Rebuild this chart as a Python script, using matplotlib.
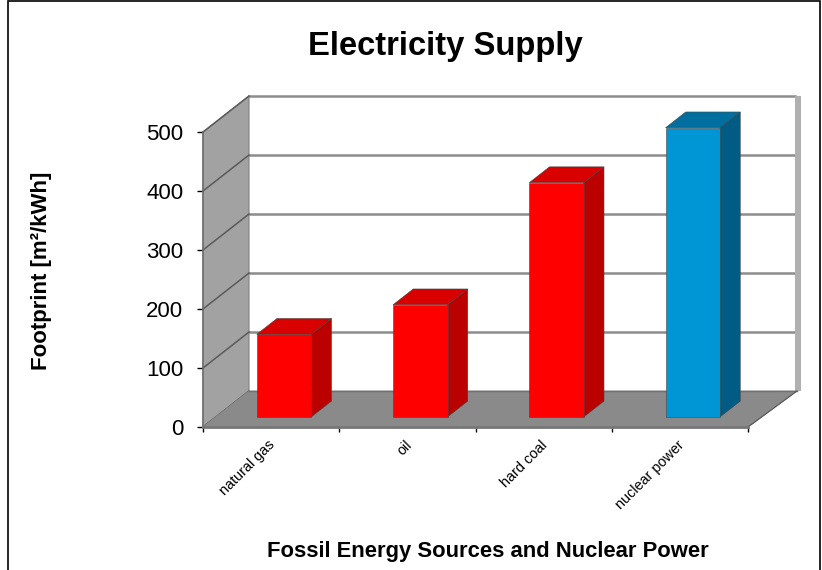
# Electricity Supply footprint chart, the 3D look is done by hand with fills
import matplotlib
matplotlib.use("Agg")
import matplotlib.pyplot as plt
import matplotlib.patches as patches
import numpy as np

plt.rcParams['font.family'] = ['Liberation Sans', 'DejaVu Sans']

categories = ['natural gas', 'oil', 'hard coal', 'nuclear power']
footprint = [140, 190, 397, 490]
y_ticks = [0, 100, 200, 300, 400, 500]
front_colors = ['#ff0000', '#ff0000', '#ff0000', '#0096d6']
top_colors = ['#d90000', '#d90000', '#d90000', '#006f9f']
side_colors = ['#bb0000', '#bb0000', '#bb0000', '#005c84']

W, H = 822, 570
fig = plt.figure(figsize=(W / 100, H / 100), dpi=100)
frame = patches.Rectangle((7.5 / W, -0.1), (820 - 7.5) / W, 1.1 - 1.5 / H,
                          transform=fig.transFigure, fc='white', ec='black', lw=1.2, zorder=-1)
fig.add_artist(frame)
ax = fig.add_axes([203 / W, 1 - 427 / H, 545 / W, 295 / H])
ax.set_xlim(0, 4)
ax.set_ylim(0, 500)
ax.patch.set_visible(False)

# depth of the box in data units (46 px and 36 px on screen)
px = 1 / 136.25
dx = 46 * px
dy = 36 / 0.59
y_top = 500
x_end = 4


def poly(xs, ys, **kw):
    ax.fill(xs, ys, clip_on=False, **kw)


# left wall, floor, strip on the right of the back wall
poly([0, dx, dx, 0], [0, dy, y_top + dy, y_top], fc='#a2a2a2', ec='#808080', lw=0.8, zorder=1)
strip_l = x_end + dx + 1 * px
strip_r = x_end + dx + 6.5 * px
poly([strip_l, strip_r, strip_r, strip_l], [dy, dy, y_top + dy, y_top + dy],
     fc='#b0b0b0', ec='none', zorder=1.6)

# grid lines on back wall and left wall
for t in y_ticks:
    if t > 0:
        ax.plot([dx, strip_l], [t + dy, t + dy], color='#8c8c8c', lw=1.8, clip_on=False, zorder=1.5)
    ax.plot([0, dx], [t, t + dy], color='#5a5a5a', lw=1.1, clip_on=False, zorder=1.5)

poly([0, dx, x_end + dx + 3 * px, x_end], [0, dy, dy, 0], fc='#8a8a8a', ec='#8a8a8a', lw=0.6, zorder=2)
ax.plot([dx, x_end + dx + 3 * px], [dy, dy], color='#707070', lw=1, clip_on=False, zorder=2.1)
ax.plot([x_end, x_end + dx + 3 * px], [0, dy], color='#555555', lw=0.8, clip_on=False, zorder=2.1)

# bars, front face through ax.bar then top and side by hand
x = np.arange(len(categories)) + 0.5
width = 0.4
near = 0.28
far = 0.72
x_front = x + near * dx
base = near * dy
ax.bar(x_front, footprint, width=width, bottom=base, color=front_colors,
       edgecolor='#444444', linewidth=0.4, zorder=5, clip_on=False)
for i in range(len(categories)):
    left = x_front[i] - width / 2
    right = x_front[i] + width / 2
    top = base + footprint[i]
    ddx = (far - near) * dx
    ddy = (far - near) * dy
    poly([left, right, right + ddx, left + ddx], [top, top, top + ddy, top + ddy],
         fc=top_colors[i], ec='#444444', lw=0.4, zorder=4)
    poly([right, right + ddx, right + ddx, right], [base, base + ddy, top + ddy, top],
         fc=side_colors[i], ec='#444444', lw=0.4, zorder=4)

# axes
for s in ['top', 'right']:
    ax.spines[s].set_visible(False)
ax.spines['left'].set_color('#707070')
ax.spines['bottom'].set_color('#777777')
ax.spines['bottom'].set_linewidth(2)
ax.spines['left'].set_linewidth(1.2)
ax.set_yticks(y_ticks)
ax.set_xticks(range(len(categories) + 1))
ax.set_xticklabels([])
ax.tick_params(axis='y', labelsize=16, length=4.3, width=1, color='black', pad=10)
ax.tick_params(axis='x', length=3.5, width=1, color='black')

# category labels, rotated and anchored below the middle of each slot
for i, name in enumerate(categories):
    ax.annotate(name, xy=(x[i], 0), xycoords='data', xytext=(-3, -11), textcoords='offset pixels',
                rotation=45, rotation_mode='anchor', ha='right', va='top', fontsize=10.4)

fig.text(445 / W, 1 - 47 / H, 'Electricity Supply', ha='center', va='center',
         fontsize=23.6, fontweight='bold')
fig.text(41 / W, 1 - 271 / H, 'Footprint [m²/kWh]', rotation=90, ha='center', va='center',
         fontsize=16, fontweight='bold')
fig.text(487.5 / W, 1 - 552 / H, 'Fossil Energy Sources and Nuclear Power', ha='center', va='center',
         fontsize=15.8, fontweight='bold')

fig.savefig('out.png', dpi=100)
